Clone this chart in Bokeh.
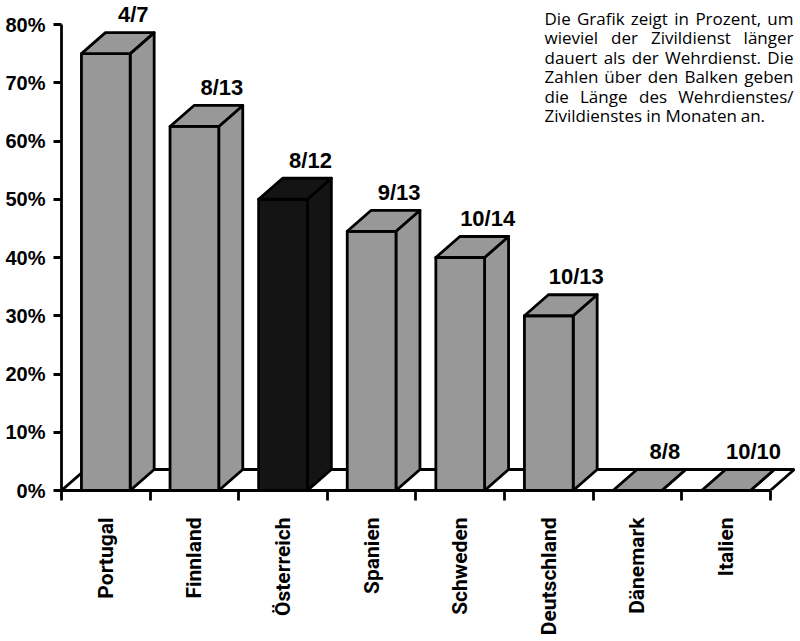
import math
from bokeh.plotting import figure
from bokeh.models import Range1d, FixedTicker, ColumnDataSource
from bokeh.core.properties import value
from bokeh.embed import file_html
from bokeh.resources import INLINE

# ---------------- data ----------------
countries = ["Portugal", "Finnland", "Österreich", "Spanien",
             "Schweden", "Deutschland", "Dänemark", "Italien"]
wehrdienst_monate = [4, 8, 8, 9, 10, 10, 8, 10]
zivildienst_monate = [7, 13, 12, 13, 14, 13, 8, 10]
prozent_laenger = [75, 62.5, 50, 44.5, 40, 30, 0, 0]
highlight = "Österreich"
y_ticks = [0, 10, 20, 30, 40, 50, 60, 70, 80]
y_tick_labels = ["0%", "10%", "20%", "30%", "40%", "50%", "60%", "70%", "80%"]
note_lines = [
    "Die Grafik zeigt in Prozent, um",
    "wieviel der Zivildienst länger",
    "dauert als der Wehrdienst. Die",
    "Zahlen über den Balken geben",
    "die Länge des Wehrdienstes/",
    "Zivildienstes in Monaten an.",
]

# ---------------- layout constants ----------------
LEFT, BOTTOM = 61, 151
FRAME_W, FRAME_H = 800 - LEFT, 490
PXX = 88.6          # pixels per category
PXY = 5.825         # pixels per percent
X_END = FRAME_W / PXX
Y_END = FRAME_H / PXY
DX = 24 / PXX       # depth offset (x)
DY = 21 / PXY       # depth offset (y)
BAR_L, BAR_R = 0.225, 0.775
LABEL_DX = 0.31
LABEL_GAP = 18 / PXY
GRAY = "#989898"
BLACK = "#141414"
LW = 2.8
BOLD = value("Liberation Sans")

p = figure(frame_width=FRAME_W, frame_height=FRAME_H,
           x_range=Range1d(0, X_END), y_range=Range1d(0, Y_END),
           toolbar_location=None, output_backend="svg",
           min_border_left=LEFT, min_border_right=0, min_border_top=0,
           min_border_bottom=BOTTOM)
p.outline_line_color = None
p.grid.visible = False
p.background_fill_color = "white"
p.border_fill_color = "white"

n = len(countries)

# floor
p.patch([0, n, n + DX, DX], [0, 0, DY, DY], fill_color="white",
        line_color="black", line_width=LW)

# bars
for i, (c, v) in enumerate(zip(countries, prozent_laenger)):
    col = BLACK if c == highlight else GRAY
    x0, x1 = i + BAR_L, i + BAR_R
    # side face
    p.patch([x1, x1 + DX, x1 + DX, x1], [0, DY, v + DY, v],
            fill_color=col, line_color="black", line_width=LW, line_join="round")
    # front face
    p.patch([x0, x1, x1, x0], [0, 0, v, v],
            fill_color=col, line_color="black", line_width=LW, line_join="round")
    # top face
    p.patch([x0, x1, x1 + DX, x0 + DX], [v, v, v + DY, v + DY],
            fill_color=col, line_color="black", line_width=LW, line_join="round")

# labels above bars
lab = ColumnDataSource(dict(
    x=[i + 0.5 + LABEL_DX for i in range(n)],
    y=[v + DY + LABEL_GAP for v in prozent_laenger],
    t=[f"{w}/{z}" for w, z in zip(wehrdienst_monate, zivildienst_monate)],
))
p.text(x="x", y="y", text="t", source=lab, text_font=BOLD, text_font_style="bold",
       text_font_size="22px", text_align="center", text_baseline="alphabetic",
       text_color="black")

# explanatory note (justified text)
CW = {'a': .556, 'b': .613, 'c': .476, 'd': .613, 'e': .561, 'f': .339, 'g': .548,
      'h': .614, 'i': .253, 'j': .253, 'k': .525, 'l': .253, 'm': .930, 'n': .614,
      'o': .604, 'p': .613, 'q': .613, 'r': .408, 's': .477, 't': .353, 'u': .614,
      'v': .501, 'w': .778, 'x': .524, 'y': .502, 'z': .477, 'ä': .556, 'ü': .614,
      'D': .722, 'G': .712, 'P': .594, 'W': .924, 'Z': .559, 'B': .646, 'L': .535,
      'M': .866, '.': .266, ',': .244, '/': .364}
FS = 17
SPACE = .26 * FS
def wwidth(w):
    return sum(CW.get(ch, .56) for ch in w) * FS

NX0, NX1 = 544, 793       # image px
NY0, NLH = 18, 19.4
def X(px):
    return (px - LEFT) / PXX
def Y(py):
    return (FRAME_H - py) / PXY

lx, ly, lt, rx, ry, rt = [], [], [], [], [], []
for k, line in enumerate(note_lines):
    words = line.split(" ")
    base = NY0 + k * NLH
    last = k == len(note_lines) - 1
    widths = [wwidth(w) for w in words]
    if last or len(words) == 1:
        gap = SPACE
    else:
        gap = max(SPACE, (NX1 - NX0 - sum(widths)) / (len(words) - 1))
    xpos = NX0
    for j, w in enumerate(words):
        if not last and j == len(words) - 1 and j > 0:
            rx.append(X(NX1)); ry.append(Y(base)); rt.append(w)
        else:
            lx.append(X(xpos)); ly.append(Y(base)); lt.append(w)
        xpos += widths[j] + gap
p.text(x=lx, y=ly, text=lt, text_font=value("Open Sans"), text_font_size=f"{FS}px",
       text_align="left", text_baseline="alphabetic", text_color="#000000")
p.text(x=rx, y=ry, text=rt, text_font=value("Open Sans"), text_font_size=f"{FS}px",
       text_align="right", text_baseline="alphabetic", text_color="#000000")

# y axis
ya = p.yaxis[0]
ya.ticker = FixedTicker(ticks=y_ticks)
ya.major_label_overrides = {t: l for t, l in zip(y_ticks, y_tick_labels)}
ya.bounds = (0, 80)
ya.axis_line_width = LW
ya.major_tick_line_width = LW
ya.major_tick_out = 8
ya.major_tick_in = 0
ya.minor_tick_line_color = None
ya.major_label_standoff = 8
ya.major_label_text_font = "Liberation Sans"
ya.major_label_text_font_style = "bold"
ya.major_label_text_font_size = "20px"
ya.major_label_text_color = "black"

# x axis
xa = p.xaxis[0]
xa.ticker = FixedTicker(ticks=[i + 0.5 for i in range(n)], minor_ticks=list(range(n + 1)))
xa.major_label_overrides = {i + 0.5: c for i, c in enumerate(countries)}
xa.bounds = (0, n)
xa.axis_line_width = LW
xa.major_tick_out = 0
xa.major_tick_in = 0
xa.major_tick_line_color = None
xa.minor_tick_out = 10
xa.minor_tick_in = 0
xa.minor_tick_line_width = LW
xa.minor_tick_line_color = "black"
xa.major_label_orientation = math.pi / 2
xa.major_label_standoff = 17
xa.major_label_text_font = "Roboto"
xa.major_label_text_font_style = "bold"
xa.major_label_text_font_size = "21px"
xa.major_label_text_color = "black"

open("out.html", "w").write(file_html(p, INLINE))
